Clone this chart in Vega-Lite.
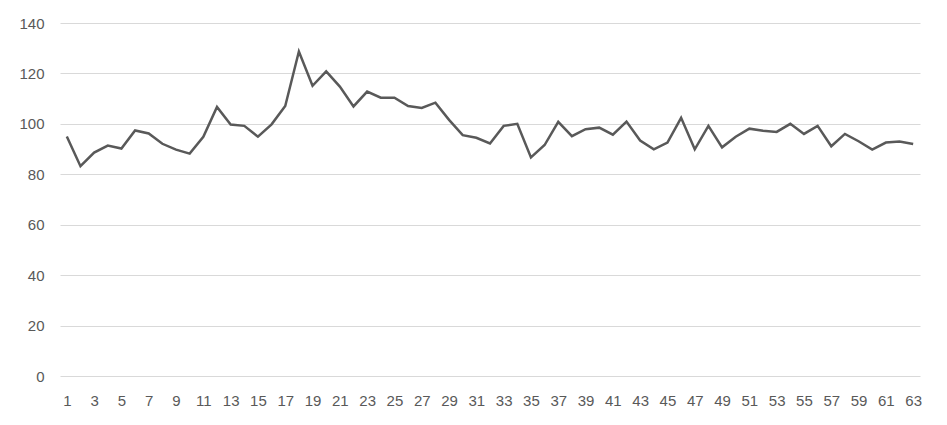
{
  "$schema": "https://vega.github.io/schema/vega-lite/v6.json",
  "width": 860,
  "height": 353,
  "autosize": {"type": "none"},
  "padding": {"left": 60, "top": 23, "right": 27, "bottom": 49},
  "background": "#ffffff",
  "config": {
    "view": {"stroke": null},
    "axis": {"labelFont": "Liberation Sans", "labelFontSize": 15, "labelColor": "#595959"}
  },
  "data": {
    "values": [
      {"x": 1, "y": 95}, {"x": 2, "y": 83.2}, {"x": 3, "y": 88.6}, {"x": 4, "y": 91.4},
      {"x": 5, "y": 90.2}, {"x": 6, "y": 97.4}, {"x": 7, "y": 96.2}, {"x": 8, "y": 92.1},
      {"x": 9, "y": 89.8}, {"x": 10, "y": 88.2}, {"x": 11, "y": 94.9}, {"x": 12, "y": 106.7},
      {"x": 13, "y": 99.7}, {"x": 14, "y": 99.2}, {"x": 15, "y": 94.9}, {"x": 16, "y": 99.8},
      {"x": 17, "y": 107.1}, {"x": 18, "y": 128.7}, {"x": 19, "y": 115.1}, {"x": 20, "y": 120.8},
      {"x": 21, "y": 114.8}, {"x": 22, "y": 106.9}, {"x": 23, "y": 112.8}, {"x": 24, "y": 110.4},
      {"x": 25, "y": 110.4}, {"x": 26, "y": 107.1}, {"x": 27, "y": 106.3}, {"x": 28, "y": 108.4},
      {"x": 29, "y": 101.6}, {"x": 30, "y": 95.5}, {"x": 31, "y": 94.5}, {"x": 32, "y": 92.2},
      {"x": 33, "y": 99.2}, {"x": 34, "y": 100}, {"x": 35, "y": 86.7}, {"x": 36, "y": 91.6},
      {"x": 37, "y": 100.8}, {"x": 38, "y": 95.1}, {"x": 39, "y": 97.9}, {"x": 40, "y": 98.5},
      {"x": 41, "y": 95.7}, {"x": 42, "y": 100.9}, {"x": 43, "y": 93.4}, {"x": 44, "y": 89.9},
      {"x": 45, "y": 92.6}, {"x": 46, "y": 102.4}, {"x": 47, "y": 89.9}, {"x": 48, "y": 99.2},
      {"x": 49, "y": 90.7}, {"x": 50, "y": 94.9}, {"x": 51, "y": 98.1}, {"x": 52, "y": 97.3},
      {"x": 53, "y": 96.8}, {"x": 54, "y": 100}, {"x": 55, "y": 96}, {"x": 56, "y": 99.2},
      {"x": 57, "y": 91.1}, {"x": 58, "y": 96}, {"x": 59, "y": 93.1}, {"x": 60, "y": 89.8},
      {"x": 61, "y": 92.6}, {"x": 62, "y": 93}, {"x": 63, "y": 92}
    ]
  },
  "mark": {"type": "line", "color": "#595959", "strokeWidth": 2.5, "strokeJoin": "miter"},
  "encoding": {
    "x": {
      "field": "x", "type": "ordinal", "title": null,
      "scale": {"type": "point", "padding": 0.5},
      "axis": {
        "values": [1,3,5,7,9,11,13,15,17,19,21,23,25,27,29,31,33,35,37,39,41,43,45,47,49,51,53,55,57,59,61,63],
        "labelAngle": 0, "ticks": false, "domain": false, "grid": false, "labelPadding": 17
      }
    },
    "y": {
      "field": "y", "type": "quantitative", "title": null,
      "scale": {"domain": [0, 140], "nice": false},
      "axis": {
        "values": [0, 20, 40, 60, 80, 100, 120, 140],
        "ticks": false, "domain": false, "grid": true, "gridColor": "#d9d9d9", "gridWidth": 1,
        "labelPadding": 16
      }
    }
  }
}
